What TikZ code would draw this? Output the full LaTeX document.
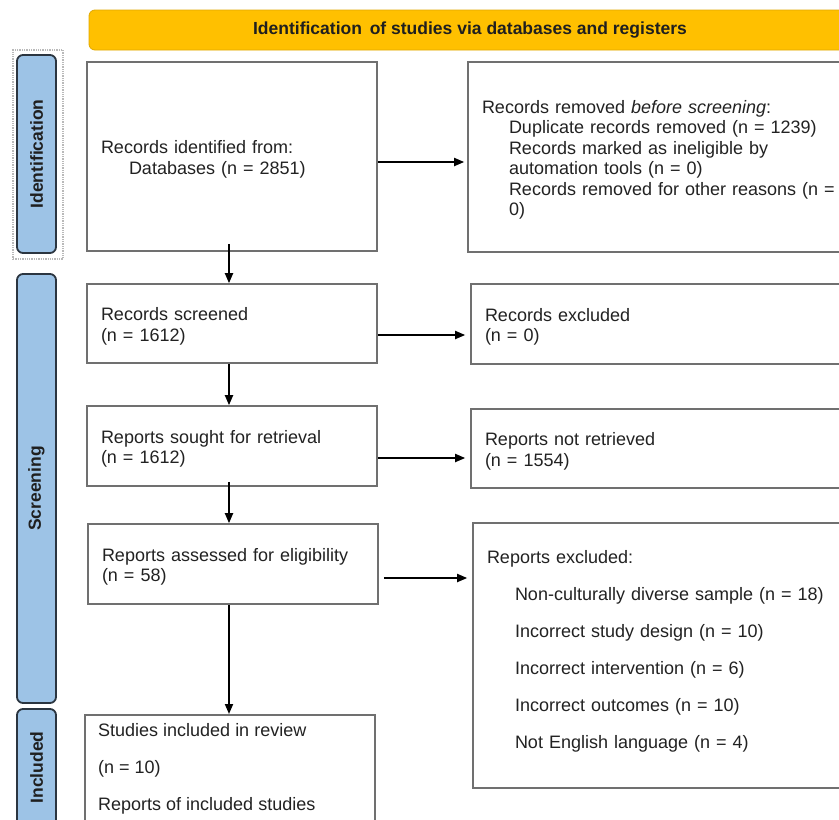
\documentclass[tikz,border=0pt]{standalone}
\usepackage{fontspec}
\setmainfont{Liberation Sans}
\usetikzlibrary{arrows.meta}
\definecolor{gold}{HTML}{FFC000}
\definecolor{goldline}{HTML}{E0A800}
\definecolor{lblue}{HTML}{9DC3E6}
\definecolor{dborder}{HTML}{2B3540}
\definecolor{boxgray}{HTML}{707070}
\definecolor{txtgray}{HTML}{222222}
\newcommand{\topfix}{\rule{0pt}{19pt}}
\begin{document}
\begin{tikzpicture}[x=1pt,y=-1pt,
  box/.style={draw=boxgray, line width=1.6pt, fill=white, align=left,
    inner xsep=14pt, inner ysep=0pt, font=\fontsize{18}{20.5}\selectfont, text=txtgray},
  txt/.style={align=left, inner sep=0pt, font=\fontsize{18}{20.5}\selectfont, text=txtgray},
  lab/.style={draw=dborder, fill=lblue, line width=1.8pt, rounded corners=6pt, rotate=90,
    minimum height=39pt, inner sep=0pt, font=\bfseries\fontsize{17.5}{20}\selectfont, text=black!88},
  arr/.style={-{Triangle[length=10pt,width=8pt]}, line width=1.8pt, black},
]
\useasboundingbox (0,0) rectangle (839,820);
\clip (0,0) rectangle (839,820);

% banner
\node[draw=goldline, line width=0.8pt, fill=gold, rounded corners=6pt,
  minimum width=762pt, minimum height=40pt, inner sep=0pt,
  font=\bfseries\fontsize{17.5}{20}\selectfont, text=black!88] (banner) at (470,30)
  {Identification\, of studies via databases and registers};

% side labels
\node[draw=gray!55, densely dotted, line width=1.3pt, minimum width=50pt, minimum height=209pt, inner sep=0pt] (idframe) at (38,154.5) {};
\node[lab, minimum width=198pt] (labid) at (36.5,154) {Identification};
\node[lab, minimum width=429pt] (labscr) at (36.5,488.5) {Screening};
\node[lab, minimum width=117pt] (labinc) at (36.5,767.5) {Included};

% left column
\node[box, text width=262pt, minimum height=189pt] (b1) at (232,156.5)
  {\topfix Records identified from:\\\hspace*{28pt}Databases (n = 2851)};
\node[box, text width=262pt, minimum height=79pt] (b3) at (232,323.5)
  {\topfix Records screened\\(n = 1612)};
\node[box, text width=262pt, minimum height=80pt] (b5) at (232,446)
  {\topfix Reports sought for retrieval\\(n = 1612)};
\node[box, text width=262pt, minimum height=80pt] (b7) at (233,564)
  {\topfix Reports assessed for eligibility\\(n = 58)};
\node[box, minimum width=290pt, minimum height=200pt, anchor=north west] (b9) at (84,714) {};
\node[txt, anchor=north west] (b9t) at ([shift={(14,9.5)}]b9.north west)
  {Studies included in review\\[16.5pt](n = 10)\\[16.5pt]Reports of included studies};

% right column
\node[box, text width=354pt, minimum height=190pt] (b2) at (659,157)
  {\topfix Records removed \textit{before screening}:\\
   \hspace*{27pt}Duplicate records removed (n = 1239)\\
   \hspace*{27pt}Records marked as ineligible by\\
   \hspace*{27pt}automation tools (n = 0)\\
   \hspace*{27pt}Records removed for other reasons (n =\\
   \hspace*{27pt}0)};
\node[box, text width=351pt, minimum height=80pt] (b4) at (660.5,324)
  {\topfix Records excluded\\(n = 0)};
\node[box, text width=351pt, minimum height=79pt] (b6) at (660.5,448.5)
  {\topfix Reports not retrieved\\(n = 1554)};
\node[box, text width=349pt, minimum height=265pt] (b8) at (661.5,655.5)
  {\topfix Reports excluded:\\[16.5pt]
   \hspace*{28pt}Non-culturally diverse sample (n = 18)\\[16.5pt]
   \hspace*{28pt}Incorrect study design (n = 10)\\[16.5pt]
   \hspace*{28pt}Incorrect intervention (n = 6)\\[16.5pt]
   \hspace*{28pt}Incorrect outcomes (n = 10)\\[16.5pt]
   \hspace*{28pt}Not English language (n = 4)\\[-2pt]\mbox{}};

% helper coordinates
\coordinate (xa) at (229,0);
\coordinate (ya) at (0,162);
\coordinate (yb) at (0,335);
\coordinate (yc) at (0,458);
\coordinate (yd) at (0,578);

% vertical arrows
\draw[arr, shorten <=-8pt] (b1.south -| xa) -- (b3.north -| xa);
\draw[arr] (b3.south -| xa) -- (b5.north -| xa);
\draw[arr, shorten <=-5pt] (b5.south -| xa) -- (b7.north -| xa);
\draw[arr] (b7.south -| xa) -- (b9.north -| xa);

% horizontal arrows
\draw[arr, shorten >=3pt] (b1.east |- ya) -- (b2.west |- ya);
\draw[arr, shorten >=5pt] (b3.east |- yb) -- (b4.west |- yb);
\draw[arr, shorten >=5pt] (b5.east |- yc) -- (b6.west |- yc);
\draw[arr, shorten >=5pt, shorten <=5pt] (b7.east |- yd) -- (b8.west |- yd);
\end{tikzpicture}
\end{document}
